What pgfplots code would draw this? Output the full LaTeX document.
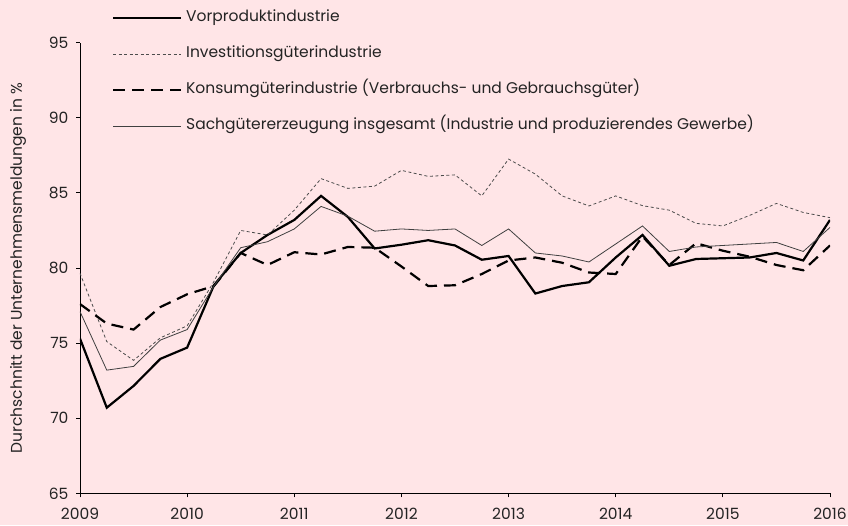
\documentclass[border=0pt]{standalone}
\usepackage{fontspec}
\setmainfont{Poppins}
\usepackage{pgfplots}
\pgfplotsset{compat=1.18}
\definecolor{bg}{RGB}{255,229,231}
\definecolor{txt}{RGB}{35,35,35}
\pgfplotstableread{
x V I K S
2009.00 75.3 79.65 77.6 77.1
2009.25 70.7 75.1 76.3 73.2
2009.50 72.15 73.85 75.9 73.45
2009.75 73.95 75.35 77.4 75.2
2010.00 74.7 76.15 78.25 75.9
2010.25 78.85 79.1 78.8 78.8
2010.50 81.0 82.5 81.0 81.35
2010.75 82.2 82.2 80.2 81.75
2011.00 83.2 83.85 81.05 82.6
2011.25 84.8 85.95 80.9 84.1
2011.50 83.4 85.3 81.4 83.45
2011.75 81.3 85.45 81.35 82.45
2012.00 81.55 86.5 80.1 82.6
2012.25 81.85 86.1 78.8 82.5
2012.50 81.5 86.2 78.85 82.6
2012.75 80.55 84.8 79.6 81.5
2013.00 80.8 87.25 80.5 82.6
2013.25 78.3 86.25 80.7 81.0
2013.50 78.8 84.8 80.35 80.8
2013.75 79.05 84.13 79.7 80.4
2014.00 80.7 84.8 79.6 81.6
2014.25 82.2 84.15 82.1 82.8
2014.50 80.15 83.85 80.2 81.1
2014.75 80.6 82.97 81.65 81.4
2015.00 80.65 82.8 81.15 81.5
2015.25 80.7 83.5 80.75 81.6
2015.50 81.0 84.3 80.2 81.7
2015.75 80.5 83.7 79.85 81.1
2016.00 83.2 83.35 81.5 82.7
}\data
\begin{document}
\begin{tikzpicture}[x=1pt,y=1pt]
\fill[bg] (-80,-31.7) rectangle (768,493.3);
\useasboundingbox (-80,-31.7) rectangle (768,493.3);
\begin{axis}[
  scale only axis, width=750pt, height=450.6pt,
  at={(0,0)}, anchor=south west,
  xmin=2009, xmax=2016, ymin=65, ymax=95,
  axis lines*=left,
  axis line style={black, line width=0.9pt},
  xtick={2009,2010,...,2016}, ytick={65,70,...,95},
  tick align=outside, major tick length=4pt,
  tick style={black, line width=0.8pt},
  /pgf/number format/1000 sep={},
  /pgf/number format/assume math mode=true,
  every tick label/.append style={font=\fontsize{15.5}{18}\selectfont, text=txt},
  x tick label style={yshift=-7pt},
  y tick label style={xshift=-4pt},
  ylabel={Durchschnitt der Unternehmensmeldungen in \%},
  every axis y label/.style={at={(axis description cs:-0.0827,0.5)}, rotate=90, anchor=center, font=\fontsize{15.5}{18}\selectfont, text=txt},
  legend image code/.code={\path[draw=none, fill=none, use as bounding box] (0pt,-4pt) rectangle (71pt,4pt); \draw[#1] (0pt,0pt) -- (68pt,0pt);},
  legend cell align=left,
  legend style={at={(axis description cs:0.044,1.077)}, anchor=north west, draw=none, fill=none,
    inner xsep=0pt, inner ysep=0pt, row sep=16.5pt,
    nodes={inner sep=2pt, text height=11.5pt, text depth=4pt},
    font=\fontsize{15.5}{18}\selectfont, text=txt},
]
\addplot[black, line width=2.2pt] table[x=x, y=V] {\data};
\addlegendentry{Vorproduktindustrie}
\addplot[black!70, line width=0.8pt, dash pattern=on 3pt off 2.5pt] table[x=x, y=I] {\data};
\addlegendentry{Investitionsgüterindustrie}
\addplot[black, line width=2.2pt, dash pattern=on 12pt off 7pt] table[x=x, y=K] {\data};
\addlegendentry{Konsumgüterindustrie (Verbrauchs- und Gebrauchsgüter)}
\addplot[black!75, line width=0.8pt] table[x=x, y=S] {\data};
\addlegendentry{Sachgütererzeugung insgesamt (Industrie und produzierendes Gewerbe)}
\end{axis}
\end{tikzpicture}
\end{document}
